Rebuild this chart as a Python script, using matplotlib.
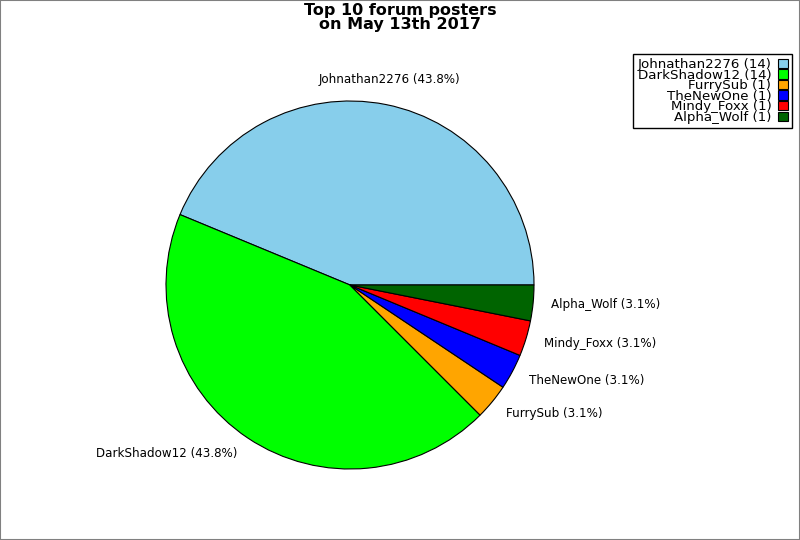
import numpy as np
import matplotlib
matplotlib.use("Agg")
import matplotlib.pyplot as plt
from matplotlib.patches import Rectangle

names = ["Johnathan2276", "DarkShadow12", "FurrySub", "TheNewOne", "Mindy_Foxx", "Alpha_Wolf"]
posts = [14, 14, 1, 1, 1, 1]
colors = ["#87ceeb", "#00ff00", "#ffa500", "#0000ff", "#ff0000", "#006400"]

total = sum(posts)
pie_labels = ["%s (%.1f%%)" % (n, 100.0 * p / total) for n, p in zip(names, posts)]
legend_labels = ["%s (%d)" % (n, p) for n, p in zip(names, posts)]

fig = plt.figure(figsize=(8, 5.4), dpi=100)

# pie centre at (350, 285) px, radius 184 px
cx, cy, r = 350, 285, 184
ax = fig.add_axes([(cx - r) / 800, (540 - cy - r) / 540, 2 * r / 800, 2 * r / 540])
wedges, texts = ax.pie(posts, labels=pie_labels, colors=colors, startangle=0,
                       counterclock=True, labeldistance=1.1,
                       wedgeprops=dict(edgecolor="black", linewidth=0.8),
                       textprops=dict(fontsize=8.6))
ax.set_xlim(-1, 1)
ax.set_ylim(-1, 1)
ax.set_aspect("auto")

for w, t in zip(wedges, texts):
    ang = np.deg2rad((w.theta1 + w.theta2) / 2)
    c = np.cos(ang)
    if abs(c) < 0.3:
        t.set_ha("center")
    elif c > 0:
        t.set_ha("left")
    else:
        t.set_ha("right")
    t.set_va("center")
texts[0].set_va("bottom")

fig.suptitle("Top 10 forum posters\non May 13th 2017", x=0.5, y=1 - 3 / 540,
             va="top", fontsize=11.5, fontweight="bold", linespacing=0.9)

leg = fig.legend(wedges, legend_labels, loc="upper right",
                 bbox_to_anchor=(792 / 800, 1 - 54 / 540), borderaxespad=0,
                 markerfirst=False, fontsize=9.6, labelspacing=-0.18,
                 handlelength=0.75, handleheight=0.7, handletextpad=0.5,
                 borderpad=0.3, fancybox=False, framealpha=1)
leg.get_frame().set_edgecolor("black")
leg.get_frame().set_linewidth(1)

# grey border round the whole picture
fig.patches.append(Rectangle((0, 0), 1, 1, transform=fig.transFigure,
                             fill=False, edgecolor="#808080", linewidth=1.5))

fig.savefig("out.png", dpi=100)
